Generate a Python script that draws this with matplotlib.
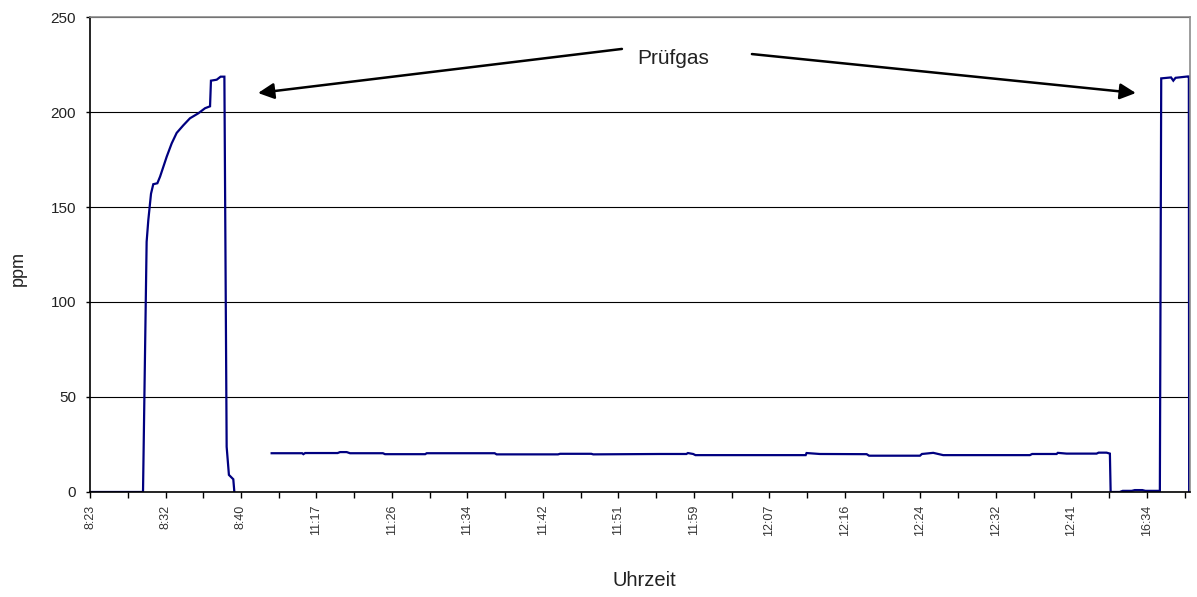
import numpy as np
import matplotlib
matplotlib.use("Agg")
import matplotlib.pyplot as plt
from matplotlib.ticker import FixedLocator, MultipleLocator

plt.rcParams["font.family"] = ["Liberation Sans", "DejaVu Sans"]

# Messwerte (Stuetzpunkte aus der Vorlage, x = Messpunkt-Nr.)
# Pruefgas-Aufgabe am Anfang
start_idx = [0, 35.1, 37.5, 38.6, 40.4, 41.9, 44.6, 46.4, 48.5, 50.8, 54.1, 57.4,
             61.8, 66.2, 71.7, 76.2, 79.5, 80.1, 83.9, 86.5, 89.0, 90.5, 92.0,
             94.9, 95.6]
start_ppm = [0, 0, 131.7, 143, 157, 162, 162.5, 166, 171, 176.5, 183.5, 189,
             193, 196.7, 199.3, 202, 203, 216.5, 217, 218.6, 218.6, 23.8, 9.0,
             6.7, 0]

# Messung + Nullgas + Pruefgas am Ende
mess_idx = [120.3, 140.5, 141.3, 142.5, 164, 165.6, 170, 172.2, 194, 195.4, 222,
            223, 268, 269.3, 310, 311.3, 332, 333.3, 377.5, 395, 396, 399.5,
            401, 474, 474.6, 483.4, 514.4, 516, 549.7, 551, 558.5, 565.1, 622.5,
            624, 640.2, 641, 646.8, 666.7, 668, 673.3, 675.5, 676, 682, 684,
            690, 692, 697, 699, 708.6, 709.5, 716, 717.5, 719, 727, 727.8, 728]
mess_ppm = [20.4, 20.4, 19.9, 20.5, 20.5, 21.0, 21.0, 20.4, 20.4, 19.9, 19.9,
            20.4, 20.4, 19.8, 19.8, 20.1, 20.1, 19.8, 20.0, 20.0, 20.5, 20.0,
            19.4, 19.4, 20.5, 20.0, 19.9, 19.1, 19.1, 20.0, 20.6, 19.4, 19.4,
            20.0, 20.0, 20.6, 20.2, 20.2, 20.7, 20.7, 20.2, 0, 0, 0.6,
            0.6, 1.0, 1.0, 0.6, 0.6, 217.7, 218.2, 216.5, 218.0, 218.7, 218.7, 0]

zeit_labels = ["8:23", "8:32", "8:40", "11:17", "11:26", "11:34", "11:42",
               "11:51", "11:59", "12:07", "12:16", "12:24", "12:32", "12:41",
               "16:34"]
LABEL_STEP = 50

fig = plt.figure(figsize=(11.97, 5.97), dpi=100)
ax = fig.add_axes([0.0752, 0.1759, 0.9190, 0.7956])

linie = "#000080"
ax.plot(start_idx, start_ppm, color=linie, lw=1.6, solid_joinstyle="miter")
ax.plot(mess_idx, mess_ppm, color=linie, lw=1.6, solid_joinstyle="miter")

ax.set_xlim(0, 728.6)
ax.set_ylim(0, 250)

# y-Achse
ax.yaxis.set_major_locator(MultipleLocator(50))
ax.grid(axis="y", color="black", lw=0.8)
ax.set_axisbelow(True)
ax.tick_params(axis="y", direction="out", length=3, width=1, labelsize=11,
               labelcolor="#222222", pad=7)

# x-Achse (Kategorien)
pos = [i * LABEL_STEP for i in range(len(zeit_labels))]
ax.xaxis.set_major_locator(FixedLocator(pos))
ax.set_xticklabels(zeit_labels, rotation=90, fontsize=9, color="#333333")
ax.xaxis.set_minor_locator(MultipleLocator(LABEL_STEP / 2))
ax.tick_params(axis="x", which="both", direction="out", length=4, width=1,
               pad=5)

for s in ("left", "bottom"):
    ax.spines[s].set_color("black")
    ax.spines[s].set_linewidth(1.2)
for s in ("top", "right"):
    ax.spines[s].set_color("#8c8c8c")
    ax.spines[s].set_linewidth(1.2)

fig.text(18 / 1197, 1 - 269 / 597, "ppm", rotation=90, ha="center",
         va="center", fontsize=13, color="#222222")
fig.text(644 / 1197, 1 - 580 / 597, "Uhrzeit", ha="center", va="center",
         fontsize=14.5, color="#222222")

# Pruefgas-Hinweis mit Pfeilen
pfeil = dict(arrowstyle="-|>", color="black", lw=1.8, mutation_scale=24,
             shrinkA=0, shrinkB=0)
ax.annotate("", xy=(111.3, 210), xytext=(352.3, 233.2), arrowprops=pfeil)
ax.annotate("", xy=(692.7, 210), xytext=(438.4, 230.5), arrowprops=pfeil)
ax.text(386, 228.4, "Prüfgas", ha="center", va="center", fontsize=15,
        color="#222222")

fig.savefig("out.png", dpi=100)
